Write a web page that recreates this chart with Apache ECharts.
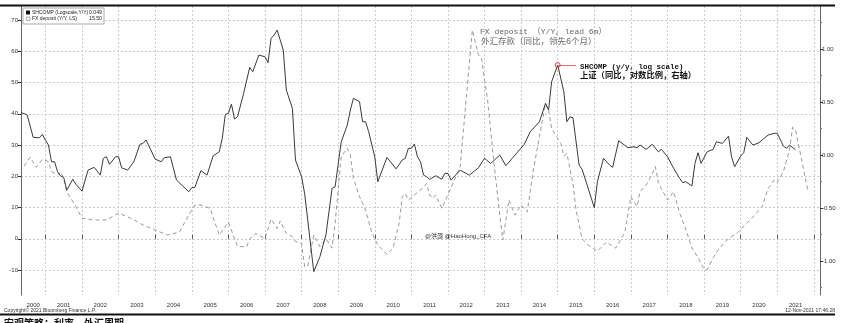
<!DOCTYPE html>
<html>
<head>
<meta charset="utf-8">
<script src="https://cdn.jsdelivr.net/npm/echarts@6/dist/echarts.min.js"></script>
<style>
html,body{margin:0;padding:0;background:#fff;}
#chart{width:851px;height:323px;}
</style>
</head>
<body>
<div id="chart"></div>
<script>
// Monthly axis span
const startMonth = '2000-05';
const endMonth = '2022-03';

// SHCOMP y/y log change (right axis)
const shcompPoints = [
  ['2000-05',0.40],['2000-07',0.38],['2000-09',0.167],['2000-11',0.163],['2000-12',0.195],
  ['2001-01',0.142],['2001-02',0.094],['2001-03',-0.063],['2001-04',-0.063],['2001-05',-0.158],
  ['2001-06',-0.198],['2001-07',-0.21],['2001-08',-0.33],['2001-10',-0.229],['2001-11',-0.276],
  ['2002-01',-0.34],['2002-03',-0.142],['2002-05',-0.116],['2002-07',-0.189],['2002-08',-0.031],
  ['2002-09',-0.016],['2002-10',-0.088],['2002-12',-0.016],['2003-01',-0.016],['2003-02',-0.12],
  ['2003-04',-0.142],['2003-06',-0.063],['2003-08',0.101],['2003-09',0.110],['2003-10',0.142],
  ['2004-01',-0.038],['2004-03',-0.063],['2004-04',-0.025],['2004-06',-0.016],['2004-08',-0.236],
  ['2004-12',-0.346],['2005-01',-0.308],['2005-02',-0.305],['2005-04',-0.147],['2005-06',-0.189],
  ['2005-08',-0.008],['2005-10',0.031],['2005-11',0.158],['2005-12',0.384],['2006-01',0.393],
  ['2006-02',0.481],['2006-03',0.34],['2006-04',0.361],['2006-06',0.582],['2006-08',0.827],
  ['2006-09',0.786],['2006-11',0.943],['2007-01',0.927],['2007-02',0.871],['2007-03',1.101],
  ['2007-04',1.132],['2007-05',1.179],['2007-07',0.99],['2007-08',0.613],['2007-10',0.44],
  ['2007-11',-0.047],['2008-01',-0.205],['2008-02',-0.361],['2008-05',-1.10],['2008-07',-0.96],
  ['2008-09',-0.75],['2008-11',-0.314],['2008-12',-0.299],['2009-02',0.125],['2009-04',0.283],
  ['2009-05',0.425],['2009-06',0.535],['2009-08',0.503],['2009-09',0.314],['2009-10',0.314],
  ['2009-11',0.22],['2010-01',-0.016],['2010-02',-0.252],['2010-05',-0.022],['2010-08',-0.13],
  ['2010-10',-0.047],['2010-11',-0.031],['2010-12',0.063],['2011-01',0.063],['2011-02',0.104],
  ['2011-03',-0.016],['2011-04',-0.063],['2011-05',-0.189],['2011-06',-0.205],['2011-07',-0.229],
  ['2011-09',-0.195],['2011-11',-0.229],['2011-12',-0.173],['2012-01',-0.173],['2012-02',-0.236],
  ['2012-05',-0.142],['2012-08',-0.19],['2012-11',-0.12],['2013-01',-0.03],['2013-03',-0.08],
  ['2013-06',0.0],['2013-08',-0.10],['2013-11',0.0],['2014-02',0.10],['2014-04',0.22],
  ['2014-07',0.314],
  ['2014-09',0.488],['2014-10',0.425],['2014-11',0.692],['2015-01',0.849],['2015-03',0.597],
  ['2015-04',0.314],['2015-05',0.36],['2015-06',0.352],['2015-08',-0.094],['2015-09',-0.135],
  ['2016-01',-0.497],['2016-02',-0.252],['2016-04',-0.031],['2016-06',-0.094],['2016-07',-0.116],
  ['2016-09',0.135],['2016-12',0.069],['2017-02',0.078],['2017-03',0.069],['2017-04',0.094],
  ['2017-06',0.054],['2017-08',0.101],['2017-10',0.031],['2017-11',0.054],['2018-01',-0.016],
  ['2018-03',-0.125],['2018-05',-0.22],['2018-06',-0.261],['2018-07',-0.252],['2018-09',-0.292],
  ['2018-10',-0.078],['2018-11',0.022],['2018-12',-0.078],['2019-02',0.031],['2019-04',0.054],
  ['2019-05',0.125],['2019-07',0.110],['2019-09',0.179],['2019-10',-0.016],['2019-11',-0.11],
  ['2020-01',-0.009],['2020-02',0.022],['2020-03',0.167],['2020-05',0.094],['2020-07',0.116],
  ['2020-08',0.142],['2020-10',0.189],['2020-12',0.205],['2021-01',0.205],['2021-03',0.085],
  ['2021-04',0.063],['2021-05',0.094],['2021-07',0.049]
];

// FX deposit y/y %, led 6 months (left axis)
const fxPoints = [
  ['2000-06',23.3],['2000-08',26.1],['2000-10',22.9],['2000-12',25.4],['2001-02',24.7],
  ['2001-03',21.5],['2001-05',20.4],['2001-06',21.5],['2001-07',19.3],['2001-08',15.1],
  ['2001-11',10.3],['2002-01',6.6],['2002-05',6],['2002-09',6],['2003-01',8.2],
  ['2003-05',6.6],['2003-09',4.4],['2004-01',2.8],['2004-05',1.2],['2004-09',2.2],
  ['2004-12',7.6],['2005-02',10.8],['2005-04',10.8],['2005-07',9.7],['2005-10',1.2],
  ['2006-01',5.3],['2006-04',-2.5],['2006-07',-2.5],['2006-08',-0.1],['2006-10',1.7],
  ['2007-01',0.1],['2007-03',6.3],['2007-05',3.3],['2007-06',5.7],['2007-08',1.7],
  ['2007-10',0.7],['2007-11',-0.9],['2008-01',-1.5],['2008-02',-8.9],['2008-03',-8.9],
  ['2008-05',1.2],['2008-07',-2.5],['2008-09',0],['2008-11',-3],['2008-12',5],
  ['2009-02',26.3],['2009-04',29],['2009-05',26.8],['2009-06',19.3],['2009-08',13.5],
  ['2009-10',9.2],['2009-12',2],['2010-02',-2],['2010-05',-5],['2010-07',-3],
  ['2010-09',5],['2010-10',13.5],['2010-11',14.5],['2010-12',12.4],['2011-04',15.6],
  ['2011-06',17.7],['2011-07',14],['2011-08',12.9],['2011-09',14],['2011-11',9.7],
  ['2012-05',23],['2012-09',66.8],['2012-11',58.8],['2012-12',57.8],['2013-02',44.4],
  ['2013-04',25],['2013-06',7.6],['2013-07',-0.4],['2013-09',12.4],['2013-11',7.6],
  ['2014-01',10.8],['2014-03',8.6],['2014-05',22],['2014-07',32.7],['2014-09',43.3],
  ['2014-10',41],['2014-11',35.3],['2015-01',32.1],['2015-02',30.5],['2015-03',26.5],
  ['2015-04',27.3],['2015-06',17.7],['2015-07',9.2],['2015-09',0],['2015-11',-2],
  ['2016-02',-4],['2016-05',-1],['2016-08',-3],['2016-11',2],['2017-01',13.5],
  ['2017-03',10.3],['2017-04',15.1],['2017-06',17.2],['2017-08',20.7],['2017-09',23.1],
  ['2017-10',17.9],['2018-01',12.4],['2018-03',15.1],['2018-05',8.1],['2018-07',3],
  ['2018-09',-3],['2018-11',-6],['2019-01',-9.7],['2019-02',-10],['2019-04',-6],
  ['2019-06',-3],['2019-09',0],['2019-12',2],['2020-03',5],['2020-06',8],
  ['2020-08',10.3],['2020-10',16.1],['2020-12',18.8],['2021-01',18],['2021-03',21.5],
  ['2021-05',28.4],['2021-06',35.7],['2021-07',34.8],['2021-09',25.2],['2021-11',15.5]
];

// Axis ticks
const leftTicks = [-10, 0, 10, 20, 30, 40, 50, 60, 70];
const rightTicks = [-1, -0.5, 0, 0.5, 1];
const rightMinorTicks = [-1.25, -0.75, -0.25, 0.25, 0.75, 1.25];

function monthList(a, b) {
  const out = [];
  let [y, m] = a.split('-').map(Number);
  const [ey, em] = b.split('-').map(Number);
  while (y < ey || (y === ey && m <= em)) {
    out.push(y + '-' + String(m).padStart(2, '0'));
    m++; if (m > 12) { m = 1; y++; }
  }
  return out;
}
const months = monthList(startMonth, endMonth);
function toSeries(points) {
  const map = new Map(points);
  return months.map(k => map.has(k) ? map.get(k) : null);
}
function shiftMonth(k, n) {
  let [y, m] = k.split('-').map(Number);
  m += n; while (m > 12) { m -= 12; y++; }
  return y + '-' + String(m).padStart(2, '0');
}

const shcomp = toSeries(shcompPoints);
const fx = toSeries(fxPoints);

// 2015 high of SHCOMP
let peak = null;
shcompPoints.forEach(p => {
  if (p[0] >= '2014-01' && p[0] <= '2016-12' && (!peak || p[1] > peak[1])) peak = p;
});
const lastShcomp = shcompPoints[shcompPoints.length - 1][1];
const lastFx = fxPoints[fxPoints.length - 1][1];

const axisFont = 'Liberation Sans, Arial, sans-serif';
const monoFont = '"Liberation Mono", "Noto Sans CJK SC", monospace';
const gridColor = '#cacaca';

const chart = echarts.init(document.getElementById('chart'), null, {renderer: 'canvas'});

chart.setOption({
  animation: false,
  backgroundColor: '#fff',
  grid: {left: 21, right: 31, top: 6, bottom: 28, containLabel: false},
  xAxis: {
    type: 'category',
    data: months,
    boundaryGap: false,
    axisLine: {show: false},
    axisTick: {
      show: true, inside: true, length: 4,
      interval: (i, v) => v.endsWith('-01'),
      lineStyle: {color: '#555'}
    },
    axisLabel: {
      interval: (i, v) => v.endsWith('-07') || v === '2000-09',
      formatter: v => v.slice(0, 4),
      fontSize: 6, color: '#333', fontFamily: axisFont, margin: 7
    },
    splitLine: {
      show: true,
      interval: (i, v) => v.endsWith('-01'),
      lineStyle: {color: gridColor, type: [2, 2], width: 1}
    }
  },
  yAxis: [
    {
      type: 'value', position: 'left', min: -18, max: 74.5,
      axisLine: {show: true, lineStyle: {color: '#666', width: 1}},
      axisTick: {show: true, length: 3, customValues: leftTicks, lineStyle: {color: '#333'}},
      axisLabel: {customValues: leftTicks, fontSize: 6, color: '#333', fontFamily: axisFont, margin: 3},
      splitLine: {show: true, lineStyle: {color: gridColor, type: [2, 2], width: 1}}
    },
    {
      type: 'value', position: 'right', min: -1.32, max: 1.406,
      axisLine: {show: true, lineStyle: {color: '#666', width: 1}},
      axisTick: {show: true, length: 3, customValues: rightTicks, lineStyle: {color: '#333'}},
      axisLabel: {customValues: rightTicks, formatter: v => v.toFixed(2), fontSize: 6, color: '#333', fontFamily: axisFont, margin: 2},
      splitLine: {show: false}
    },
    {
      type: 'value', position: 'right', min: -1.32, max: 1.406,
      axisLine: {show: false},
      axisTick: {show: true, length: 2, customValues: rightMinorTicks, lineStyle: {color: '#777'}},
      axisLabel: {show: false, customValues: rightMinorTicks},
      splitLine: {show: false}
    }
  ],
  series: [
    {
      name: 'FX deposit (Y/Y, LS)',
      type: 'line', yAxisIndex: 0, data: fx, connectNulls: true,
      symbol: 'none', z: 3,
      lineStyle: {color: '#9a9a9a', width: 1, type: [4, 3]}
    },
    {
      name: 'SHCOMP (Logscale,Y/Y)',
      type: 'line', yAxisIndex: 1, data: shcomp, connectNulls: true,
      symbol: 'none', z: 4,
      lineStyle: {color: '#3a3a3a', width: 1},
      markPoint: {
        silent: true,
        data: [{coord: [peak[0], peak[1]], symbol: 'circle', symbolSize: 5,
          itemStyle: {color: 'rgba(0,0,0,0)', borderColor: '#e8443a', borderWidth: 1},
          label: {show: false}}]
      },
      markLine: {
        silent: true, symbol: 'none', label: {show: false},
        lineStyle: {color: '#f06a60', width: 1, type: 'solid'},
        data: [[{coord: [peak[0], peak[1]]}, {coord: [shiftMonth(peak[0], 6), peak[1]]}]]
      }
    }
  ],
  graphic: [
    // frame rules
    {type: 'line', shape: {x1: 0, y1: 5.5, x2: 835, y2: 5.5}, style: {stroke: '#111', lineWidth: 2}, z: 10},
    {type: 'line', shape: {x1: 0, y1: 314.5, x2: 835, y2: 314.5}, style: {stroke: '#111', lineWidth: 2}, z: 10},
    // legend
    {type: 'rect', shape: {x: 23, y: 8, width: 81, height: 16}, style: {fill: '#fff', stroke: '#aaa', lineWidth: 1}, z: 20},
    {type: 'rect', shape: {x: 26, y: 10.5, width: 4, height: 4}, style: {fill: '#111'}, z: 21},
    {type: 'rect', shape: {x: 26.5, y: 17, width: 3.5, height: 3.5}, style: {fill: '#fff', stroke: '#999', lineWidth: 0.8}, z: 21},
    {type: 'text', x: 32, y: 12.7, style: {text: 'SHCOMP (Logscale,Y/Y)', font: '5px ' + axisFont, fill: '#222', textVerticalAlign: 'middle'}, z: 21},
    {type: 'text', x: 102, y: 12.7, style: {text: lastShcomp.toFixed(3), font: '5.2px ' + axisFont, fill: '#222', textAlign: 'right', textVerticalAlign: 'middle'}, z: 21},
    {type: 'text', x: 32, y: 19, style: {text: 'FX deposit (Y/Y, LS)', font: '5px ' + axisFont, fill: '#222', textVerticalAlign: 'middle'}, z: 21},
    {type: 'text', x: 102, y: 19, style: {text: lastFx.toFixed(2), font: '5.2px ' + axisFont, fill: '#222', textAlign: 'right', textVerticalAlign: 'middle'}, z: 21},
    // series notes
    {type: 'text', x: 480, y: 32, style: {text: 'FX deposit （Y/Y, lead 6m）', font: '8px ' + monoFont, fill: '#666', textVerticalAlign: 'middle'}, z: 21},
    {type: 'text', x: 481, y: 42, style: {text: '外汇存款（同比，领先6个月）', font: '8.5px ' + monoFont, fill: '#666', textVerticalAlign: 'middle'}, z: 21},
    {type: 'text', x: 580, y: 67, style: {text: 'SHCOMP (y/y, log scale)', font: 'bold 7.5px ' + monoFont, fill: '#111', textVerticalAlign: 'middle'}, z: 21},
    {type: 'text', x: 580, y: 76, style: {text: '上证（同比，对数比例，右轴）', font: 'bold 8.3px ' + monoFont, fill: '#111', textVerticalAlign: 'middle'}, z: 21},
    {type: 'text', x: 425, y: 236, style: {text: '@洪灏 @HaoHong_CFA', font: '6px ' + axisFont + ', "Noto Sans CJK SC"', fill: '#333', textVerticalAlign: 'middle'}, z: 21},
    // footer
    {type: 'text', x: 4, y: 311, style: {text: 'Copyright© 2021 Bloomberg Finance L.P.', font: '5px ' + axisFont, fill: '#333', textVerticalAlign: 'middle'}, z: 21},
    {type: 'text', x: 835, y: 311, style: {text: '12-Nov-2021 17:46:28', font: '5px ' + axisFont, fill: '#333', textAlign: 'right', textVerticalAlign: 'middle'}, z: 21},
    {type: 'text', x: 4, y: 318, style: {text: '宏观策略：利率，外汇周期', font: 'bold 10px "Noto Sans CJK SC", sans-serif', fill: '#111', textVerticalAlign: 'top'}, z: 21}
  ]
});
</script>
</body>
</html>
